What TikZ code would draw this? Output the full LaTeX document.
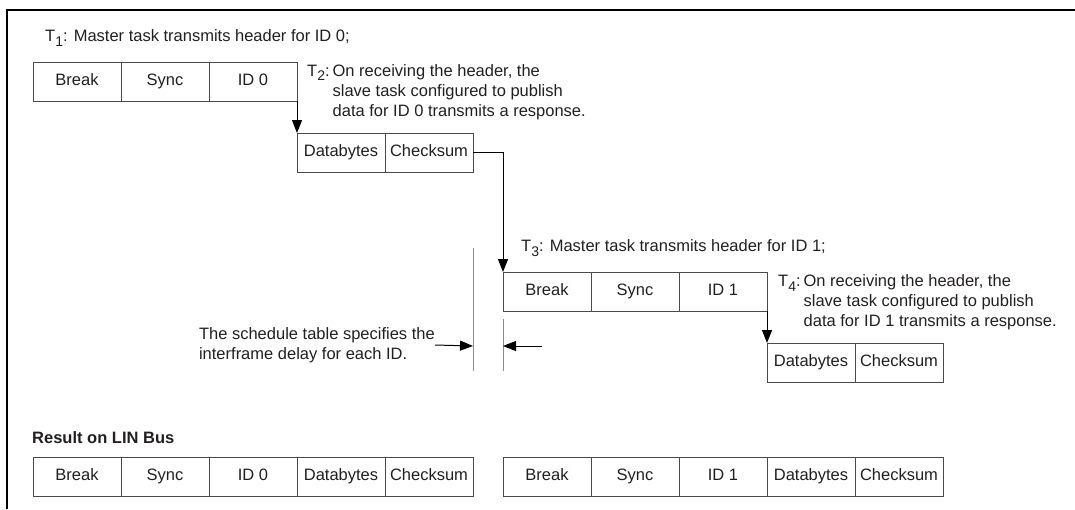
\documentclass[tikz,border=0pt]{standalone}
\usepackage{fontspec}
\setmainfont{Liberation Sans}
\usepackage{xcolor}
\definecolor{boxLine}{HTML}{4A4A4A}
\definecolor{inkText}{HTML}{231F20}
\definecolor{gapLine}{HTML}{8C8C8C}
\usetikzlibrary{arrows.meta, positioning}
\newcommand{\tsub}[1]{\raisebox{-0.55ex}{\fontsize{14}{14}\selectfont #1}}

\begin{document}
\begin{tikzpicture}[
		x=1pt, y=-1pt,
		>={Triangle[length=13pt, width=10pt]},
		font=\fontsize{16.5}{20}\selectfont,
		cell/.style={draw=boxLine, line width=1pt, outer sep=0pt,
			minimum width=88pt, minimum height=39pt, inner sep=0pt,
			text height=11.5pt, text depth=3pt, text=inkText},
		link/.style={->, line width=1pt, black},
		gapRule/.style={line width=1pt, gapLine},
		caption/.style={inner sep=0pt, text=inkText, align=left}
	]
	\useasboundingbox (0,0) rectangle (1075,509);
	% frame
	\draw[line width=2pt] (7,509) -- (7,10) -- (1075,10);

	% frame for ID 0
	\node[cell, anchor=north west] (brkA) at (33,62) {Break};
	\node[cell, right=0pt of brkA] (syncA) {Sync};
	\node[cell, right=0pt of syncA] (idA) {ID 0};
	\node[cell, below right=32pt and 0pt of idA] (dataA) {Databytes};
	\node[cell, right=0pt of dataA] (chkA) {Checksum};

	\node[caption, anchor=west] (tOne) at (45,38)
		{T\tsub{1}: Master task transmits header for ID 0;};
	\node[caption, anchor=north west] (tTwo) at (307,62) {%
		\begin{tabular}{@{}l@{\hspace{3pt}}l@{}}
			T\tsub{2}: & On receiving the header, the\\
			& slave task configured to publish\\
			& data for ID 0 transmits a response.
		\end{tabular}};

	\draw[link] (idA.south east) -- (dataA.north west);

	% frame for ID 1
	\node[cell, anchor=north west] (brkB) at (503,272) {Break};
	\node[cell, right=0pt of brkB] (syncB) {Sync};
	\node[cell, right=0pt of syncB] (idB) {ID 1};
	\node[cell, below right=32pt and 0pt of idB] (dataB) {Databytes};
	\node[cell, right=0pt of dataB] (chkB) {Checksum};

	\node[caption, anchor=west] (tThree) at (521,248)
		{T\tsub{3}: Master task transmits header for ID 1;};
	\node[caption, anchor=north west] (tFour) at (778,272) {%
		\begin{tabular}{@{}l@{\hspace{3pt}}l@{}}
			T\tsub{4}: & On receiving the header, the\\
			& slave task configured to publish\\
			& data for ID 1 transmits a response.
		\end{tabular}};

	\draw[link] (chkA.east) -| (brkB.north west);
	\draw[link] (idB.south east) -- (dataB.north west);

	% interframe delay
	\coordinate (gapL) at (473,346);
	\coordinate (gapR) at (503,346);
	\coordinate (gapTail) at (542,346);
	\draw[gapRule] (473,248) -- (473,371);
	\draw[gapRule] (503,319) -- (503,371);
	\node[caption, anchor=east] (note) at (435,345)
		{The schedule table specifies the\\interframe delay for each ID.};
	\draw[link] (note.east) -- (gapL);
	\draw[link] (gapTail) -- (gapR);

	% result on the bus
	\node[caption, anchor=west, font=\fontsize{16.5}{20}\selectfont\bfseries]
		(result) at (32,438) {Result on LIN Bus};
	\node[cell, anchor=north west] (busBrkA) at (33,457) {Break};
	\node[cell, right=0pt of busBrkA] (busSyncA) {Sync};
	\node[cell, right=0pt of busSyncA] (busIdA) {ID 0};
	\node[cell, right=0pt of busIdA] (busDataA) {Databytes};
	\node[cell, right=0pt of busDataA] (busChkA) {Checksum};
	\node[cell, anchor=north west] (busBrkB) at (503,457) {Break};
	\node[cell, right=0pt of busBrkB] (busSyncB) {Sync};
	\node[cell, right=0pt of busSyncB] (busIdB) {ID 1};
	\node[cell, right=0pt of busIdB] (busDataB) {Databytes};
	\node[cell, right=0pt of busDataB] (busChkB) {Checksum};
\end{tikzpicture}
\end{document}
